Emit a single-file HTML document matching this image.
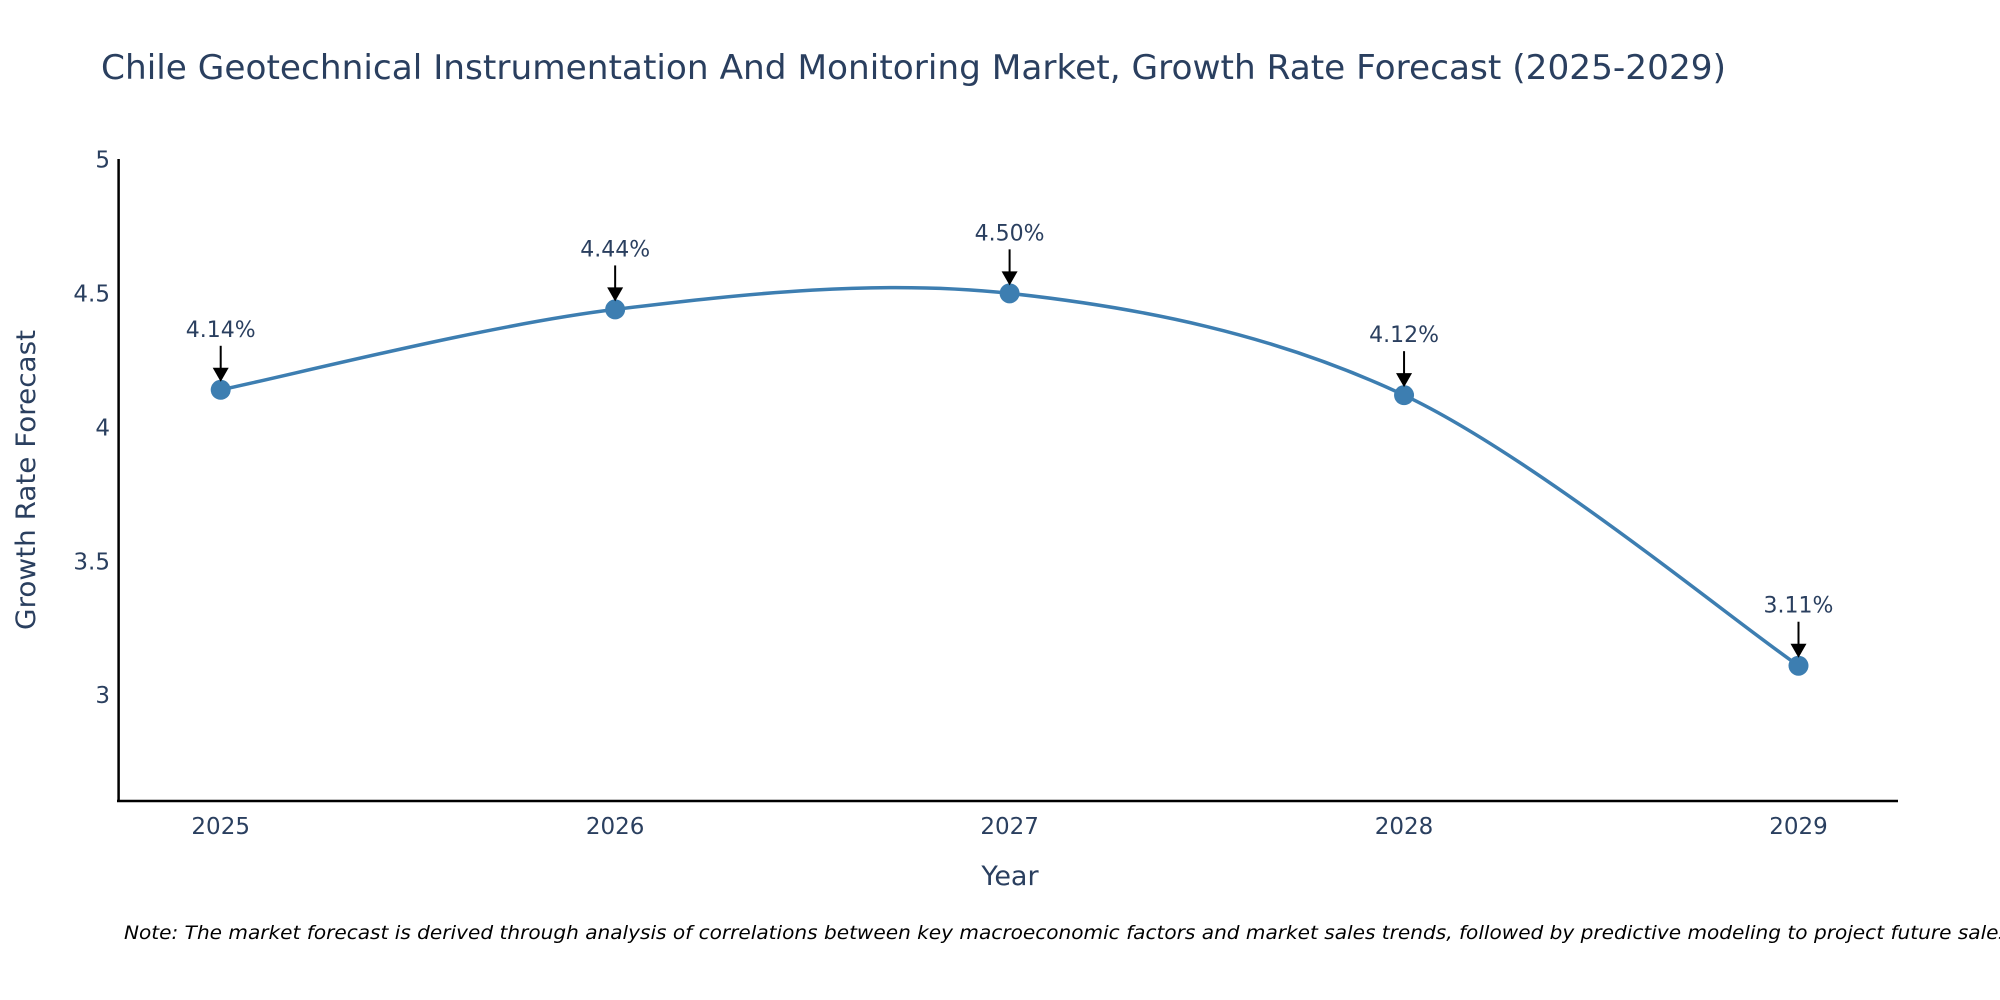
<!DOCTYPE html>
<html><head><meta charset="utf-8"><style>
html,body{margin:0;padding:0;background:#fff;overflow:hidden;}
svg{display:block;font-family:"DejaVu Sans","Liberation Sans",sans-serif;}
</style></head><body>
<svg id="chart" width="2000" height="1000" viewBox="0 0 2000 1000">
<text x="101" y="79" font-size="34" fill="#2a3f5f" textLength="1625" lengthAdjust="spacingAndGlyphs">Chile Geotechnical Instrumentation And Monitoring Market, Growth Rate Forecast (2025-2029)</text>
<g id="yticks"></g>
<g id="xticks"></g>
<line x1="118.6" y1="159" x2="118.6" y2="802" stroke="#000" stroke-width="2.5"/>
<line x1="117" y1="801" x2="1898" y2="801" stroke="#000" stroke-width="2.5"/>
<text x="1010" y="885" font-size="27" fill="#2a3f5f" text-anchor="middle">Year</text>
<text x="0" y="0" font-size="27" fill="#2a3f5f" text-anchor="middle" textLength="300" lengthAdjust="spacingAndGlyphs" transform="translate(35,480) rotate(-90)">Growth Rate Forecast</text>
<g id="series"></g>
<g id="annots"></g>
<text x="124" y="939" font-size="19" font-style="italic" fill="#000" textLength="1885" lengthAdjust="spacingAndGlyphs">Note: The market forecast is derived through analysis of correlations between key macroeconomic factors and market sales trends, followed by predictive modeling to project future sales</text>
</svg>
<script>
const years = [2025, 2026, 2027, 2028, 2029];
const values = [4.14, 4.44, 4.50, 4.12, 3.11];
const valueLabels = ["4.14%", "4.44%", "4.50%", "4.12%", "3.11%"];
const yTickValues = [3, 3.5, 4, 4.5, 5];
const yTickLabels = ["3", "3.5", "4", "4.5", "5"];

const NS = "http://www.w3.org/2000/svg";
function xs(v){ return 220.7 + (v - 2025) * (1798.5 - 220.7) / 4; }
function ys(v){ return 695.2 - (v - 3) * (695.2 - 159.4) / 2; }
function mk(tag, attrs, parent){ const e = document.createElementNS(NS, tag); for (const k in attrs) e.setAttribute(k, attrs[k]); parent.appendChild(e); return e; }

const yt = document.getElementById('yticks');
yTickValues.forEach((v, i) => {
  const t = mk('text', {x: 110, y: ys(v) + 8, 'font-size': 23, fill: '#2a3f5f', 'text-anchor': 'end'}, yt);
  
  
  t.textContent = yTickLabels[i];
});
const xt = document.getElementById('xticks');
years.forEach(y => {
  const t = mk('text', {x: xs(y), y: 834, 'font-size': 23, fill: '#2a3f5f', 'text-anchor': 'middle'}, xt);
  
  
  t.textContent = String(y);
});

const pts = years.map((y, i) => [xs(y), ys(values[i])]);
let d = `M${pts[0][0]},${pts[0][1]}`;
const s = 0.33;
for (let i = 0; i < pts.length - 1; i++) {
  const p0 = pts[Math.max(0, i - 1)], p1 = pts[i], p2 = pts[i + 1], p3 = pts[Math.min(pts.length - 1, i + 2)];
  const c1 = [p1[0] + (p2[0] - p0[0]) * s / 2, p1[1] + (p2[1] - p0[1]) * s / 2];
  const c2 = [p2[0] - (p3[0] - p1[0]) * s / 2, p2[1] - (p3[1] - p1[1]) * s / 2];
  d += ` C${c1[0]},${c1[1]} ${c2[0]},${c2[1]} ${p2[0]},${p2[1]}`;
}
const ser = document.getElementById('series');
const line = mk('path', {d: d, fill: 'none', stroke: '#3d7eb1', 'stroke-width': 3.5}, ser);


pts.forEach(p => {
  const c = mk('circle', {cx: p[0], cy: p[1], r: 10, fill: '#3d7eb1'}, ser);
  
  
});

const an = document.getElementById('annots');
pts.forEach((p, i) => {
  const l = mk('line', {x1: p[0], y1: p[1] - 44, x2: p[0], y2: p[1] - 20, stroke: '#000', 'stroke-width': 2}, an);
  
  
  const h = mk('polygon', {points: `${p[0]-8},${p[1]-22} ${p[0]+8},${p[1]-22} ${p[0]},${p[1]-8}`, fill: '#000'}, an);
  
  
  const t = mk('text', {x: p[0], y: p[1] - 53, 'font-size': 22, fill: '#2a3f5f', 'text-anchor': 'middle'}, an);
  
  
  t.textContent = valueLabels[i];
});
</script>
</body></html>
